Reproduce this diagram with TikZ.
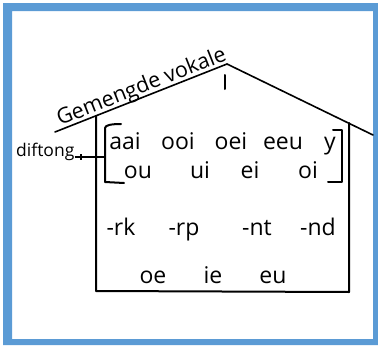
\documentclass[tikz,border=0pt]{standalone}
\usepackage{fontspec}
\setmainfont{Open Sans}
\definecolor{frameblue}{HTML}{5B9BD5}
\begin{document}
\begin{tikzpicture}[x=1pt,y=-1pt,
  hand/.style={font=\fontsize{23}{23}\selectfont, inner sep=0pt, anchor=base},
  small/.style={font=\fontsize{17.5}{17.5}\selectfont, inner sep=0pt, anchor=base west},
  wall/.style={line width=2pt, line cap=round, line join=round},
  roof/.style={line width=1.6pt, line cap=round},
  brk/.style={line width=2pt, line cap=round, line join=round}]
\useasboundingbox (0,0) rectangle (378,348);
\fill[frameblue, even odd rule] (3,3) rectangle (378,345) (12,11) rectangle (373,339);
% roof
\coordinate (roofL) at (55,132);
\coordinate (apex) at (227,64);
\coordinate (roofR) at (373,135);
\draw[roof] (roofL) -- (apex) -- (roofR);
\draw[wall] (225,75) -- (225,89);
% walls
\coordinate (wTL) at (96,116);
\coordinate (wBL) at (96,291);
\coordinate (wBR) at (349,292);
\coordinate (wTR) at (349,123);
\draw[wall] (wTL) -- (wBL) -- (wBR) -- (wTR);
% title
\node[font=\fontsize{21.5}{21.5}\selectfont, inner sep=0pt, anchor=base west, rotate=21.6] (title) at (60,126) {Gemengde vokale};
% brackets
\draw[brk] (121,124) .. controls (112,124) and (105,125) .. (105,128) -- (105,182) -- (124,183);
\draw[brk] (333,130) -- (342,130) -- (342,182) -- (328,182);
% diftong
\node[small] (dif) at (16,156) {diftong};
\coordinate (difend) at (104,157);
\draw[line width=1.4pt] (dif.east |- difend) -- (difend);
\draw[line width=1.2pt] (81,154) -- (81,160);
% row 1
\node[hand] (aai) at (125,149) {aai};
\node[hand] (ooi) at (178,149) {ooi};
\node[hand] (oei) at (231,149) {oei};
\node[hand] (eeu) at (283,149) {eeu};
\node[hand] (y) at (330,149) {y};
% row 2
\node[hand] (ou) at (138,178) {ou};
\node[hand] (ui) at (200,178) {ui};
\node[hand] (ei) at (250,178) {ei};
\node[hand] (oi) at (308,178) {oi};
% row 3
\node[hand] (rk) at (121,235) {-rk};
\node[hand] (rp) at (184,235) {-rp};
\node[hand] (nt) at (257,235) {-nt};
\node[hand] (nd) at (318,235) {-nd};
% row 4
\node[hand] (oe) at (153,283) {oe};
\node[hand] (ie) at (213,283) {ie};
\node[hand] (eu) at (273,283) {eu};
\end{tikzpicture}
\end{document}
